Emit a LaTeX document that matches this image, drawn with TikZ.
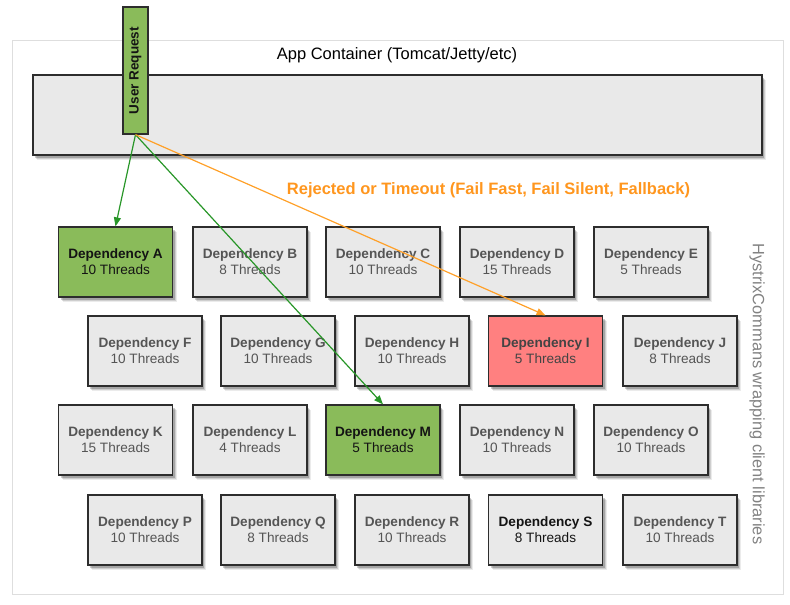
\documentclass[tikz,border=0pt]{standalone}
\usepackage{fontspec}
\setmainfont{Liberation Sans}
\usetikzlibrary{shadows,arrows.meta}
\definecolor{boxgray}{RGB}{233,233,233}
\definecolor{boxborder}{RGB}{45,45,45}
\definecolor{deptext}{RGB}{85,85,85}
\definecolor{darktext}{RGB}{20,20,20}
\definecolor{greenfill}{RGB}{138,187,90}
\definecolor{redfill}{RGB}{255,128,128}
\definecolor{greenline}{RGB}{40,150,40}
\definecolor{orangeline}{RGB}{255,160,40}
\definecolor{orangetext}{RGB}{255,150,30}
\definecolor{outerline}{RGB}{222,222,222}
\definecolor{sidetext}{RGB}{130,130,130}
\begin{document}
\begin{tikzpicture}[x=1pt,y=-1pt,
  shadowed/.style={
    drop shadow={shadow xshift=4pt, shadow yshift=-5pt, opacity=0.08, fill=black},
    drop shadow={shadow xshift=3pt, shadow yshift=-4pt, opacity=0.12, fill=black},
    drop shadow={shadow xshift=2pt, shadow yshift=-3pt, opacity=0.2, fill=black}},
  box/.style={draw=boxborder, line width=1.3pt, fill=boxgray, minimum width=114pt,
    minimum height=70pt, inner sep=0pt, align=center,
    font=\fontsize{13.6}{16}\selectfont, text=deptext, shadowed},
  hot/.style={box, fill=greenfill, text=darktext},
  bad/.style={box, fill=redfill, text=deptext!80!black},
  conn/.style={line width=1.2pt, -{Triangle[length=9pt,width=7pt]}}
]
\useasboundingbox (0,0) rectangle (790,605);
\node[draw=outerline, line width=1pt, minimum width=771pt, minimum height=554pt, inner sep=0pt] (outer) at (397.5,317) {};
\node[draw=boxborder, line width=1.3pt, fill=boxgray, minimum width=729pt, minimum height=80pt, inner sep=0pt, shadowed] (app) at (397.5,115) {};
\node[font=\fontsize{16.5}{19}\selectfont] (title) at (397,55) {App Container (Tomcat/Jetty/etc)};
\node[draw=boxborder, line width=1.3pt, fill=greenfill, minimum width=25pt, minimum height=127pt, inner sep=0pt] (ur) at (135.5,70.5) {};
\node[rotate=90, font=\bfseries\fontsize{13.5}{16}\selectfont, text=darktext] (urtext) at (ur.center) {User Request};
\node[font=\bfseries\fontsize{16.5}{19}\selectfont, text=orangetext] (rej) at (488.5,190) {Rejected or Timeout (Fail Fast, Fail Silent, Fallback)};
\node[rotate=-90, font=\fontsize{16.4}{19}\selectfont, text=sidetext] (side) at (757,394) {HystrixCommans wrapping client libraries};
% row 1
\node[hot] (A) at (115.5,262) {\textbf{Dependency A}\\10 Threads};
\node[box] (B) at (250,262) {\textbf{Dependency B}\\8 Threads};
\node[box] (C) at (383,262) {\textbf{Dependency C}\\10 Threads};
\node[box] (D) at (517,262) {\textbf{Dependency D}\\15 Threads};
\node[box] (E) at (651,262) {\textbf{Dependency E}\\5 Threads};
% row 2
\node[box] (F) at (145,351) {\textbf{Dependency F}\\10 Threads};
\node[box] (G) at (278,351) {\textbf{Dependency G}\\10 Threads};
\node[box] (H) at (412,351) {\textbf{Dependency H}\\10 Threads};
\node[bad] (I) at (545.5,351) {\textbf{Dependency I}\\5 Threads};
\node[box] (J) at (680,351) {\textbf{Dependency J}\\8 Threads};
% row 3
\node[box] (K) at (115.5,440) {\textbf{Dependency K}\\15 Threads};
\node[box] (L) at (250,440) {\textbf{Dependency L}\\4 Threads};
\node[hot] (M) at (383,440) {\textbf{Dependency M}\\5 Threads};
\node[box] (N) at (517,440) {\textbf{Dependency N}\\10 Threads};
\node[box] (O) at (651,440) {\textbf{Dependency O}\\10 Threads};
% row 4
\node[box] (P) at (145,530) {\textbf{Dependency P}\\10 Threads};
\node[box] (Q) at (278,530) {\textbf{Dependency Q}\\8 Threads};
\node[box] (R) at (412,530) {\textbf{Dependency R}\\10 Threads};
\node[box, text=darktext] (S) at (545.5,530) {\textbf{Dependency S}\\8 Threads};
\node[box] (T) at (680,530) {\textbf{Dependency T}\\10 Threads};
% connectors
\draw[conn, greenline] (ur.south) -- (A.north);
\draw[conn, greenline] (ur.south) -- (M.north);
\draw[conn, orangeline] (ur.south) -- (I.north);
\end{tikzpicture}
\end{document}
